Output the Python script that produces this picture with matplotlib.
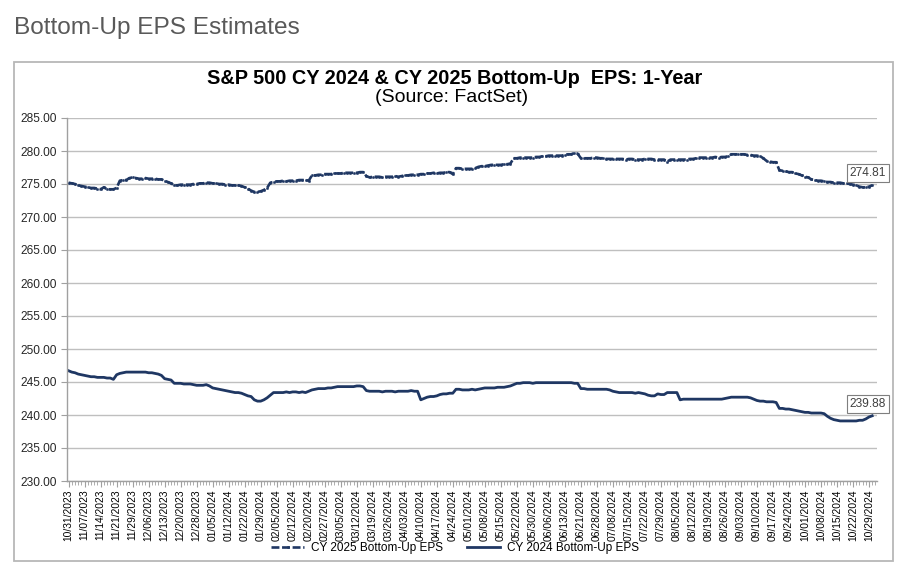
import numpy as np
import pandas as pd
import matplotlib
matplotlib.use("Agg")
import matplotlib.pyplot as plt
from matplotlib.patches import Rectangle
from matplotlib.ticker import MultipleLocator, FixedLocator, FixedFormatter

plt.rcParams['font.family'] = ['Liberation Sans', 'DejaVu Sans']

# ---------------- data ----------------
holidays = ["2023-11-23", "2023-12-25", "2024-01-01", "2024-01-15", "2024-02-19",
            "2024-03-29", "2024-05-27", "2024-06-19", "2024-07-04", "2024-09-02"]
start_date = "2023-10-31"
end_date = "2024-10-30"

cy2025_eps = [
    275.2, 275.1, 275.0, 274.8, 274.7,
    274.6, 274.5, 274.4, 274.4, 274.3,
    274.2, 274.5, 274.2, 274.2, 274.2,
    274.4, 275.5, 275.6, 275.6, 275.9,
    276.0, 275.9, 275.8, 275.8, 275.9,
    275.8, 275.8, 275.8, 275.7, 275.7,
    275.5, 275.3, 275.1, 274.8, 274.8,
    274.9, 274.9, 274.9, 274.9, 275.0,
    275.0, 275.1, 275.1, 275.2, 275.2,
    275.1, 275.1, 275.0, 275.0, 274.9,
    274.9, 274.8, 274.8, 274.8, 274.7,
    274.5, 274.3, 274.0, 273.8, 273.8,
    273.9, 274.1, 274.4, 275.2, 275.3,
    275.4, 275.4, 275.5, 275.4, 275.5,
    275.5, 275.5, 275.6, 275.6, 275.6,
    275.5, 276.3, 276.3, 276.4, 276.4,
    276.5, 276.5, 276.5, 276.6, 276.6,
    276.6, 276.7, 276.7, 276.7, 276.7,
    276.7, 276.8, 276.8, 276.2, 276.0,
    276.1, 276.1, 276.1, 276.0, 276.1,
    276.1, 276.1, 276.2, 276.1, 276.2,
    276.3, 276.3, 276.4, 276.4, 276.4,
    276.5, 276.5, 276.6, 276.6, 276.7,
    276.6, 276.7, 276.7, 276.8, 276.8,
    276.5, 277.4, 277.4, 277.3, 277.3,
    277.3, 277.3, 277.4, 277.6, 277.7,
    277.7, 277.8, 277.9, 277.9, 277.9,
    277.9, 278.0, 278.0, 278.1, 278.9,
    278.9, 279.0, 279.0, 279.0, 279.0,
    279.0, 279.1, 279.1, 279.2, 279.2,
    279.3, 279.3, 279.3, 279.3, 279.3,
    279.4, 279.5, 279.5, 279.7, 279.6,
    278.9, 278.9, 278.9, 278.9, 279.0,
    279.0, 278.9, 278.9, 278.8, 278.8,
    278.8, 278.8, 278.8, 278.8, 278.7,
    278.8, 278.8, 278.7, 278.7, 278.7,
    278.8, 278.8, 278.8, 278.7, 278.7,
    278.7, 278.7, 278.4, 278.7, 278.7,
    278.7, 278.7, 278.7, 278.7, 278.8,
    278.8, 278.9, 279.0, 279.0, 279.0,
    279.0, 279.0, 279.1, 279.0, 279.1,
    279.1, 279.2, 279.5, 279.5, 279.5,
    279.5, 279.5, 279.4, 279.4, 279.3,
    279.3, 279.2, 278.9, 278.5, 278.4,
    278.3, 278.3, 277.1, 277.0, 276.9,
    276.8, 276.8, 276.6, 276.5, 276.3,
    276.1, 276.0, 275.7, 275.6, 275.5,
    275.5, 275.4, 275.3, 275.3, 275.2,
    275.2, 275.2, 275.1, 275.1, 275.0,
    274.9, 274.8, 274.6, 274.5, 274.5,
    274.6, 274.81,
]

cy2024_eps = [
    246.7, 246.5, 246.4, 246.2, 246.1,
    246.0, 245.9, 245.8, 245.8, 245.7,
    245.7, 245.7, 245.6, 245.6, 245.4,
    246.1, 246.3, 246.4, 246.5, 246.5,
    246.5, 246.5, 246.5, 246.5, 246.5,
    246.4, 246.4, 246.3, 246.2, 246.0,
    245.5, 245.4, 245.3, 244.8, 244.8,
    244.8, 244.7, 244.7, 244.7, 244.6,
    244.5, 244.5, 244.5, 244.6, 244.4,
    244.1, 244.0, 243.9, 243.8, 243.7,
    243.6, 243.5, 243.4, 243.4, 243.3,
    243.1, 242.9, 242.8, 242.3, 242.1,
    242.1, 242.3, 242.6, 243.0, 243.4,
    243.4, 243.4, 243.4, 243.5, 243.4,
    243.5, 243.5, 243.4, 243.5, 243.4,
    243.6, 243.8, 243.9, 244.0, 244.0,
    244.0, 244.1, 244.1, 244.2, 244.3,
    244.3, 244.3, 244.3, 244.3, 244.3,
    244.4, 244.4, 244.3, 243.7, 243.6,
    243.6, 243.6, 243.6, 243.5, 243.6,
    243.6, 243.6, 243.5, 243.6, 243.6,
    243.6, 243.6, 243.7, 243.6, 243.6,
    242.3, 242.5, 242.7, 242.8, 242.8,
    242.9, 243.1, 243.2, 243.2, 243.3,
    243.3, 243.9, 243.9, 243.8, 243.8,
    243.8, 243.9, 243.8, 243.9, 244.0,
    244.1, 244.1, 244.1, 244.1, 244.2,
    244.2, 244.2, 244.3, 244.4, 244.6,
    244.8, 244.8, 244.9, 244.9, 244.9,
    244.8, 244.9, 244.9, 244.9, 244.9,
    244.9, 244.9, 244.9, 244.9, 244.9,
    244.9, 244.9, 244.9, 244.8, 244.8,
    244.0, 244.0, 243.9, 243.9, 243.9,
    243.9, 243.9, 243.9, 243.9, 243.8,
    243.6, 243.5, 243.4, 243.4, 243.4,
    243.4, 243.4, 243.3, 243.4, 243.3,
    243.2, 243.0, 242.9, 242.9, 243.2,
    243.1, 243.1, 243.4, 243.4, 243.4,
    243.4, 242.3, 242.4, 242.4, 242.4,
    242.4, 242.4, 242.4, 242.4, 242.4,
    242.4, 242.4, 242.4, 242.4, 242.4,
    242.5, 242.6, 242.7, 242.7, 242.7,
    242.7, 242.7, 242.7, 242.6, 242.4,
    242.2, 242.1, 242.1, 242.0, 242.0,
    242.0, 241.9, 241.0, 241.0, 240.9,
    240.9, 240.8, 240.7, 240.6, 240.5,
    240.4, 240.4, 240.3, 240.3, 240.3,
    240.3, 240.2, 239.8, 239.5, 239.3,
    239.2, 239.1, 239.1, 239.1, 239.1,
    239.1, 239.1, 239.2, 239.2, 239.4,
    239.7, 239.88,
]

y_ticks = [230, 235, 240, 245, 250, 255, 260, 265, 270, 275, 280, 285]
series_names = ["CY 2025 Bottom-Up EPS", "CY 2024 Bottom-Up EPS"]

# trading-day category axis
dates = pd.bdate_range(start_date, end_date)
dates = dates[~dates.isin(pd.to_datetime(holidays))]
n = min(len(dates), len(cy2025_eps), len(cy2024_eps))
dates = dates[:n]
x = np.arange(n)
tick_idx = list(range(0, n, 5))
tick_lbl = [dates[i].strftime("%m/%d/%Y") for i in tick_idx]

# ---------------- figure ----------------
W, H = 900, 566
fig = plt.figure(figsize=(W / 100, H / 100), dpi=100)
fig.patch.set_facecolor("white")

def fx(px):
    return px / W

def fy(py):
    return 1 - py / H

# outer heading
fig.text(fx(14), fy(28), "Bottom-Up EPS Estimates", fontsize=17.6, color="#595959",
         ha="left", va="center")

# chart frame
fig.patches.append(Rectangle((fx(14), fy(561)), fx(893) - fx(14), fy(62) - fy(561),
                             transform=fig.transFigure, fill=False,
                             edgecolor="#b7b7b7", linewidth=1.3))

fig.text(fx(455), fy(79), "S&P 500 CY 2024 & CY 2025 Bottom-Up  EPS: 1-Year",
         fontsize=14.3, fontweight="bold", ha="center", va="center", color="black")
fig.text(fx(452), fy(98), "(Source: FactSet)", fontsize=14, ha="center",
         va="center", color="black")

left, right, top, bottom = 67, 877, 118, 481
ax = fig.add_axes([fx(left), fy(bottom), fx(right) - fx(left), fy(top) - fy(bottom)])

navy = "#1f3763"
l1, = ax.plot(x, cy2025_eps[:n], color=navy, lw=1.9, linestyle=(0, (3, 1)),
              marker="o", markersize=1.7, markeredgewidth=0.3, label=series_names[0])
l2, = ax.plot(x, cy2024_eps[:n], color=navy, lw=2.0, label=series_names[1])

ax.set_xlim(-0.5, n + 0.5)
ax.set_ylim(230, 285)
ax.yaxis.set_major_locator(FixedLocator(y_ticks))
ax.set_yticklabels([f"{v:.2f}" for v in y_ticks])
ax.yaxis.grid(True, color="#bfbfbf", linewidth=1.0)
ax.set_axisbelow(True)

ax.xaxis.set_major_locator(FixedLocator(tick_idx))
ax.xaxis.set_major_formatter(FixedFormatter(tick_lbl))
ax.xaxis.set_minor_locator(MultipleLocator(1))
ax.tick_params(axis="x", which="major", labelrotation=90, labelsize=7.4, length=4,
               color="#a0a0a0", pad=2, labelcolor="black")
ax.tick_params(axis="x", which="minor", length=3, color="#a0a0a0", width=0.6)
ax.tick_params(axis="y", labelsize=8.6, length=4, color="#a0a0a0", pad=3,
               labelcolor="#262626")

for s in ["top", "right"]:
    ax.spines[s].set_visible(False)
for s in ["left", "bottom"]:
    ax.spines[s].set_color("#a0a0a0")
    ax.spines[s].set_linewidth(1.0)

# end labels
for series in (cy2025_eps, cy2024_eps):
    ax.annotate(f"{series[n - 1]:.2f}", xy=(x[-1], series[n - 1]),
                xytext=(-3.0, 8.5), textcoords="offset points",
                ha="center", va="center", fontsize=8.6, color="#404040",
                bbox=dict(boxstyle="square,pad=0.25", fc="white", ec="#7f7f7f", lw=0.8),
                annotation_clip=False)

fig.legend(handles=[l1, l2], labels=series_names, loc="center",
           bbox_to_anchor=(fx(455), fy(548)), ncol=2, frameon=False,
           fontsize=8.5, handlelength=2.8, columnspacing=2.0, handletextpad=0.6)

fig.savefig("out.png", dpi=100, facecolor="white")
